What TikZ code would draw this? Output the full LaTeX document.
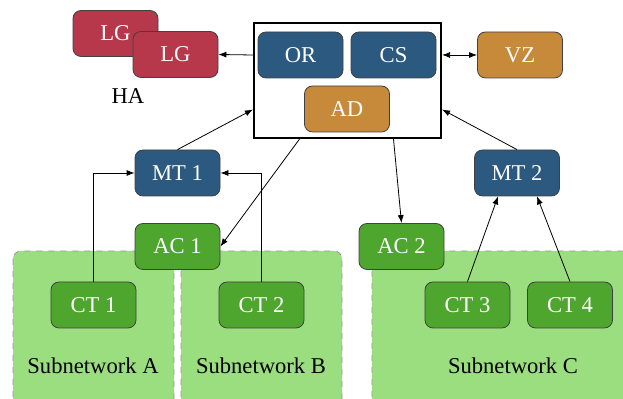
\documentclass[tikz,border=0pt]{standalone}
\usepackage{fontspec}
\setmainfont{Liberation Serif}
\usetikzlibrary{arrows.meta}

\definecolor{unitblue}{RGB}{43,89,128}
\definecolor{unitred}{RGB}{184,56,75}
\definecolor{unitgold}{RGB}{198,138,58}
\definecolor{unitgreen}{RGB}{78,166,46}
\definecolor{zonegreen}{RGB}{155,222,128}

\begin{document}
\begin{tikzpicture}[x=0.5pt, y=-0.5pt,
    unit/.style={draw=black!75, rounded corners=4pt, inner sep=0pt,
                 minimum width=42.5pt, minimum height=23pt, text=white,
                 font=\fontsize{11.3}{13}\selectfont},
    zone/.style={draw=gray!80, dashed, fill=zonegreen, rounded corners=4pt},
    lbl/.style={font=\fontsize{11.3}{13}\selectfont},
    flow/.style={-{Latex[length=4pt,width=3pt]}, thin}]
  \useasboundingbox (0,0) rectangle (623,399);
  \begin{scope}
    \clip (0,0) rectangle (623,399);
    \draw[zone] (13,251) rectangle (174,420);
    \draw[zone] (181,251) rectangle (342,420);
    \draw[zone] (372,251) rectangle (650,420);
  \end{scope}
  \node[lbl] (za) at (93,366)  {Subnetwork A};
  \node[lbl] (zb) at (261,366) {Subnetwork B};
  \node[lbl] (zc) at (513,366) {Subnetwork C};

  \node[unit, fill=unitred] (lg1) at (115.5,33.5) {LG};
  \node[unit, fill=unitred] (lg2) at (175.5,54.5) {LG};
  \node[lbl] (ha) at (128,96) {HA};

  \node[draw, line width=1.1pt, minimum width=93.5pt, minimum height=57.5pt,
        inner sep=0pt] (big) at (347.5,80.5) {};
  \node[unit, fill=unitblue] (or) at (300.5,55) {OR};
  \node[unit, fill=unitblue] (cs) at (393.5,55) {CS};
  \node[unit, fill=unitgold] (ad) at (347,109) {AD};
  \node[unit, fill=unitgold] (vz) at (520,55) {VZ};

  \node[unit, fill=unitblue]  (mt1) at (177.5,173) {MT 1};
  \node[unit, fill=unitblue]  (mt2) at (517,173)   {MT 2};
  \node[unit, fill=unitgreen] (ac1) at (177.5,246.5) {AC 1};
  \node[unit, fill=unitgreen] (ac2) at (401.5,246.5) {AC 2};
  \node[unit, fill=unitgreen] (ct1) at (93.5,305)  {CT 1};
  \node[unit, fill=unitgreen] (ct2) at (261.5,305) {CT 2};
  \node[unit, fill=unitgreen] (ct3) at (467.5,305) {CT 3};
  \node[unit, fill=unitgreen] (ct4) at (570,305)   {CT 4};

  \draw[flow] (big.west |- or.west) -- (lg2.east);
  \draw[{Latex[length=4pt,width=3pt]}-{Latex[length=4pt,width=3pt]}, thin]
    (big.east |- cs.east) -- (vz.west);
  \draw[flow] (mt1.north) -- ([yshift=-14.5pt]big.west);
  \draw[flow] (mt2.north) -- ([yshift=-14.5pt]big.east);
  \draw[flow] ([xshift=-24pt]big.south) -- (ac1.east);
  \draw[flow] ([xshift=23pt]big.south) -- (ac2.north);
  \draw[flow] (ct1.north) |- (mt1.west);
  \draw[flow] (ct2.north) |- (mt1.east);
  \draw[flow] (ct3.north) -- ([xshift=-9.5pt]mt2.south);
  \draw[flow] (ct4.north) -- ([xshift=10pt]mt2.south);
\end{tikzpicture}
\end{document}
